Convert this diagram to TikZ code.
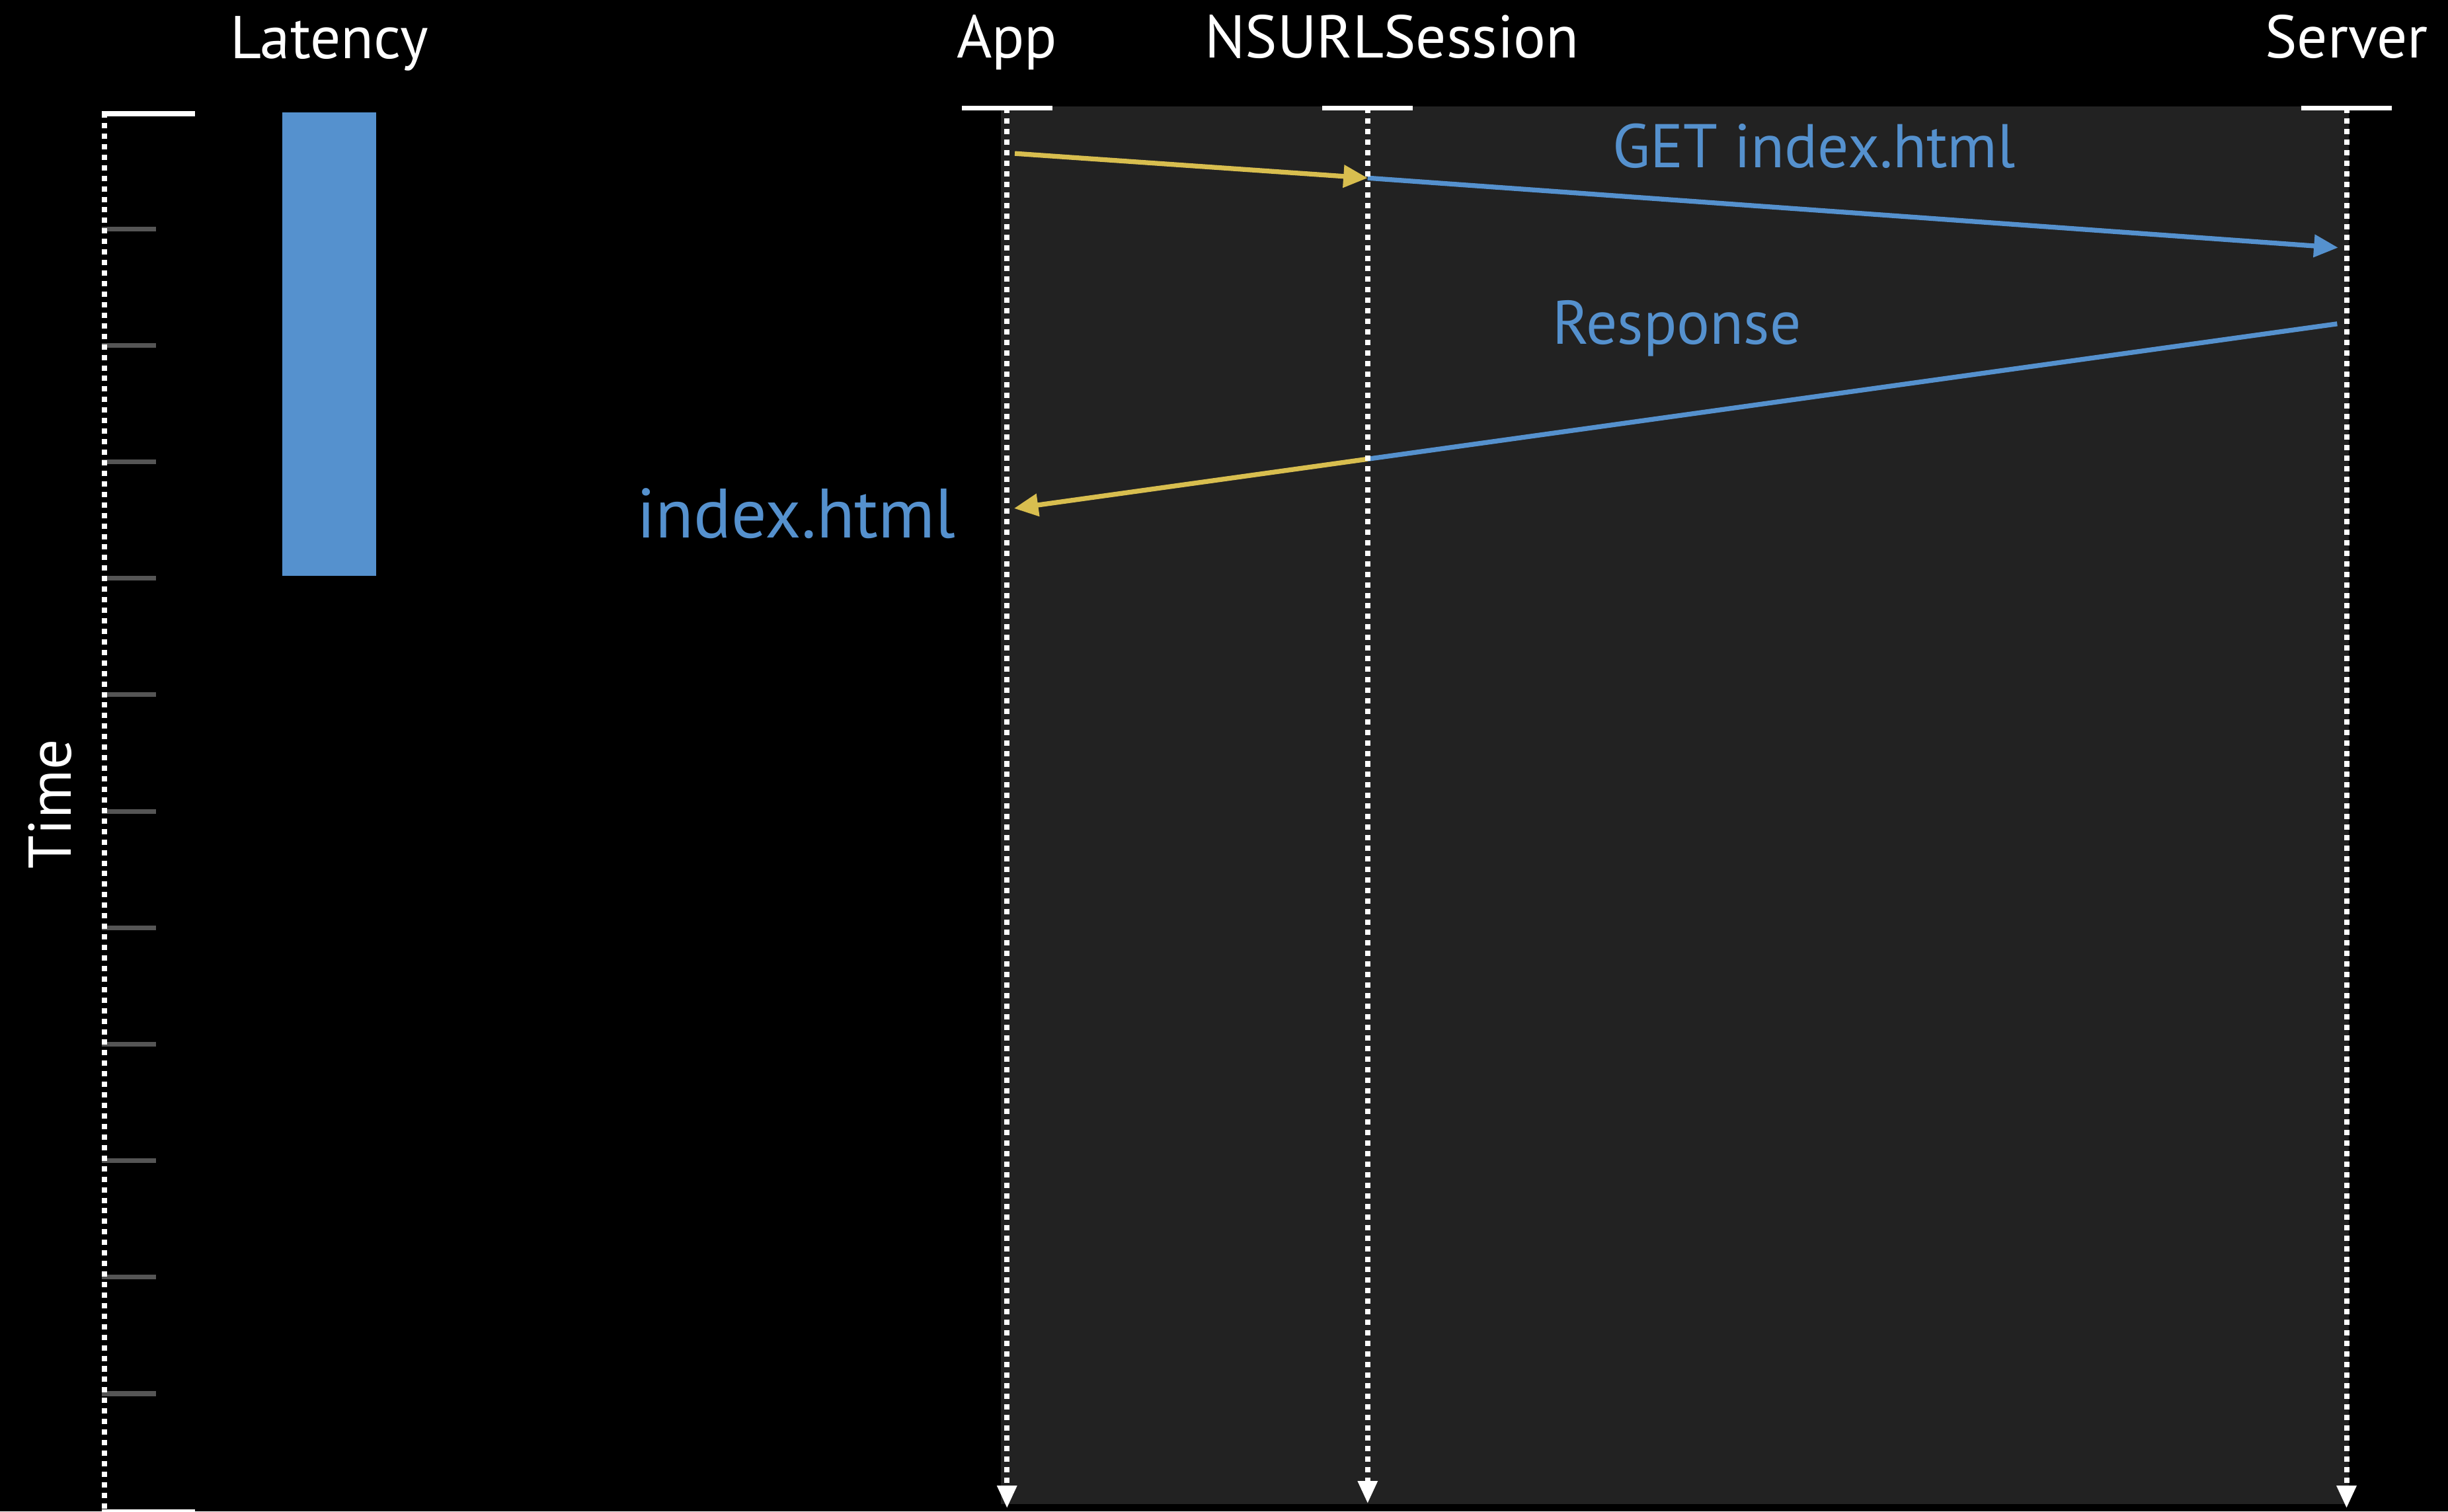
\documentclass[tikz,border=0pt]{standalone}
\usepackage{fontspec}
\setmainfont{PT Sans}
\usepackage{xcolor}
\usetikzlibrary{positioning}
\usetikzlibrary{arrows.meta}
\definecolor{msgblue}{HTML}{5591CE}
\definecolor{msgyellow}{HTML}{D8BE4F}
\definecolor{panelgray}{HTML}{222222}
\definecolor{tickgray}{HTML}{555555}

\begin{document}
\begin{tikzpicture}[x=0.2mm,y=-0.2mm,
    lbl/.style={text=white,font=\fontsize{22}{26}\selectfont,anchor=base,inner sep=0pt},
    msglbl/.style={text=msgblue,font=\fontsize{22.5}{27}\selectfont,anchor=base,inner sep=0pt},
    dots/.style={white,line width=1.93pt,dash pattern=on 1.93pt off 1.91pt},
    lifeline/.style={dots,-{Triangle[length=0.29cm,width=0.24cm]}},
    headtick/.style={white,line width=1.7pt},
    msg/.style={line width=1.75pt}]
  \fill[black] (0,0) rectangle (1568,968);
  \useasboundingbox (0,0) rectangle (1568,968);
  \fill[panelgray] (641,68) rectangle (1504.5,963.5);

  % time axis and latency bar
  \node[lbl,rotate=90] (time) at (45.5,515) {Time};
  \node[lbl] (latency) at (211,37.5) {Latency};
  \fill[msgblue] (181,72) rectangle (241,369);
  \foreach \k in {1,...,11}
    \draw[tickgray,line width=1.7pt] (65,72+74.6*\k) -- (100,72+74.6*\k);
  \draw[headtick,line width=1.9pt] (65,72.8) -- (125,72.8);
  \draw[headtick] (65,968) -- (125,968);
  \draw[dots] (67,72) -- (67,968);

  % participants
  \node[lbl] (app) at (645,37) {App};
  \node[lbl] (session) at (891.5,37) {NSURLSession};
  \node[lbl] (server) at (1503,37) {Server};
  \coordinate (appTop) at (645,69.2);
  \coordinate (appEnd) at (645,966);
  \coordinate (sessionTop) at (876,69.2);
  \coordinate (sessionEnd) at (876,963);
  \coordinate (serverTop) at (1503,69.2);
  \coordinate (serverEnd) at (1503,966);

  % messages
  \coordinate (getStart) at (650,98.3);
  \coordinate (getMid) at (876,114);
  \coordinate (getEnd) at (1497.6,158.6);
  \coordinate (respStart) at (1497,207.4);
  \coordinate (respMid) at (876,294);
  \coordinate (respEnd) at (649.5,325.6);
  \draw[msg,msgblue,-{Triangle[length=0.31cm,width=0.28cm]}] (getMid) -- (getEnd);
  \draw[msg,msgyellow,-{Triangle[length=0.31cm,width=0.28cm]}] (getStart) -- (getMid);
  \draw[msg,msgblue] (respStart) -- (respMid);
  \draw[msg,msgyellow,-{Triangle[length=0.31cm,width=0.28cm]}] (respMid) -- (respEnd);
  \node[msglbl] (getlbl) at (1162,107.5) {GET index.html};
  \node[msglbl] (resplbl) at (1074,220.5) {Response};
  \node[msglbl,font=\fontsize{25.5}{30}\selectfont] (result) at (510,344.4) {index.html};

  % lifelines
  \foreach \p in {app,session,server} {
    \draw[headtick] ([xshift=-29*0.2mm]\p Top) -- ([xshift=29*0.2mm]\p Top);
    \draw[lifeline] (\p Top) -- (\p End);
  }
\end{tikzpicture}
\end{document}
